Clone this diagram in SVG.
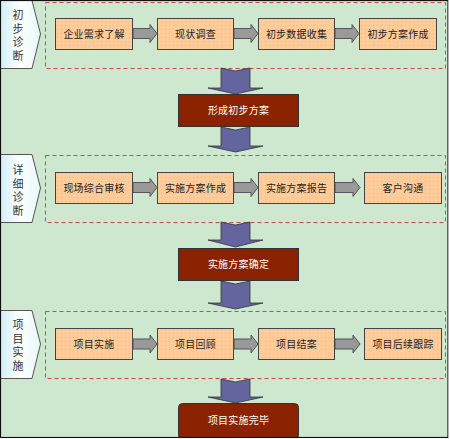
<svg xmlns="http://www.w3.org/2000/svg" width="450" height="439" viewBox="0 0 450 439">
<style>
.bg{fill:#cde8cf}
.sec{fill:none;stroke:#d0454a;stroke-width:1;stroke-dasharray:4,3}
.tab{fill:url(#tabg);stroke:#555;stroke-width:1}
.box{fill:#ffcc99;stroke:#444;stroke-width:1}
.dots{fill:url(#dot)}
.ga{fill:#999;stroke:#555;stroke-width:1}
.pa{fill:#64649e;stroke:#333;stroke-width:0.8}
.rb{fill:#8b2300;stroke:#333;stroke-width:1}
text{font-family:"Noto Sans CJK SC","Noto Sans CJK TC",sans-serif;font-size:10px;letter-spacing:0.2px;text-anchor:middle}
.bt{fill:#222}
.wt{fill:#fff}
.tt{fill:#333;font-size:11px;letter-spacing:2.5px;writing-mode:vertical-rl;text-anchor:start}
</style>
<defs>
<linearGradient id="tabg" x1="0" y1="0" x2="1" y2="0">
<stop offset="0" stop-color="#cfeff8"/>
<stop offset="0.5" stop-color="#ffffff"/>
<stop offset="1" stop-color="#e6f7fb"/>
</linearGradient>
<pattern id="dot" width="4" height="4" patternUnits="userSpaceOnUse">
<rect x="1" y="1" width="1" height="1" fill="#000" fill-opacity="0.08"/>
</pattern>
</defs>
<rect class="bg" x="0" y="0" width="450" height="439"/>

<g id="section1">
<rect class="sec" x="45.5" y="2.5" width="400" height="66"/>
<polygon class="tab" points="0,0.5 32,0.5 40.5,34 32,68.5 0,68.5"/>
<text class="tt" x="18" y="9.5">初步诊断</text>
</g>
<g id="section2">
<rect class="sec" x="45.5" y="155.5" width="400" height="67"/>
<polygon class="tab" points="0,154.5 32,154.5 40.5,188 32,222.5 0,222.5"/>
<text class="tt" x="18" y="164.5">详细诊断</text>
</g>
<g id="section3">
<rect class="sec" x="45.5" y="311.5" width="400" height="67"/>
<polygon class="tab" points="0,310.5 32,310.5 40.5,344 32,378.5 0,378.5"/>
<text class="tt" x="18" y="319.5">项目实施</text>
</g>

<g id="connectors">
<polygon class="ga" points="133,28.5 150,28.5 150,24.5 157,33.5 150,42.5 150,38.5 133,38.5"/>
<polygon class="ga" points="234,28.5 251,28.5 251,24.5 258,33.5 251,42.5 251,38.5 234,38.5"/>
<polygon class="ga" points="335,28.5 352,28.5 352,24.5 359,33.5 352,42.5 352,38.5 335,38.5"/>
<polygon class="ga" points="133,182.5 150,182.5 150,178.5 157,187.5 150,196.5 150,192.5 133,192.5"/>
<polygon class="ga" points="234,182.5 251,182.5 251,178.5 258,187.5 251,196.5 251,192.5 234,192.5"/>
<polygon class="ga" points="335,182.5 353,182.5 353,178.5 360,187.5 353,196.5 353,192.5 335,192.5"/>
<polygon class="ga" points="133,339 150,339 150,335 157,344 150,353 150,349 133,349"/>
<polygon class="ga" points="234,339 251,339 251,335 258,344 251,353 251,349 234,349"/>
<polygon class="ga" points="335,339 353,339 353,335 360,344 353,353 353,349 335,349"/>
<polygon class="pa" points="221,68 235.5,71 250,68 250,88 263,88 235.5,94 208,88 221,88"/>
<polygon class="pa" points="221,127 235.5,130 250,127 250,146 263,146 235.5,152 208,146 221,146"/>
<polygon class="pa" points="221,222 235.5,225 250,222 250,240 263,240 235.5,247 208,240 221,240"/>
<polygon class="pa" points="221,281 235.5,284 250,281 250,303 263,303 235.5,309 208,303 221,303"/>
<polygon class="pa" points="221,379 235.5,382 250,379 250,397 263,397 235.5,403 208,397 221,397"/>
</g>

<g id="n1"><rect class="box" x="55.5" y="18.5" width="77" height="31"/><rect class="dots" x="56" y="19" width="76" height="30"/><text class="bt" x="94" y="37.5">企业需求了解</text></g>
<g id="n2"><rect class="box" x="157.5" y="18.5" width="76" height="31"/><rect class="dots" x="158" y="19" width="75" height="30"/><text class="bt" x="195.5" y="37.5">现状调查</text></g>
<g id="n3"><rect class="box" x="258.5" y="18.5" width="76" height="31"/><rect class="dots" x="259" y="19" width="75" height="30"/><text class="bt" x="296.5" y="37.5">初步数据收集</text></g>
<g id="n4"><rect class="box" x="359.5" y="18.5" width="77" height="31"/><rect class="dots" x="360" y="19" width="76" height="30"/><text class="bt" x="398" y="37.5">初步方案作成</text></g>

<g id="r1"><rect class="rb" x="178.5" y="94.5" width="120" height="32"/><rect class="dots" x="179" y="95" width="119" height="31"/><text class="wt" x="238.5" y="114">形成初步方案</text></g>

<g id="n5"><rect class="box" x="55.5" y="172.5" width="77" height="31"/><rect class="dots" x="56" y="173" width="76" height="30"/><text class="bt" x="94" y="191.5">现场综合审核</text></g>
<g id="n6"><rect class="box" x="157.5" y="172.5" width="76" height="31"/><rect class="dots" x="158" y="173" width="75" height="30"/><text class="bt" x="195.5" y="191.5">实施方案作成</text></g>
<g id="n7"><rect class="box" x="258.5" y="172.5" width="76" height="31"/><rect class="dots" x="259" y="173" width="75" height="30"/><text class="bt" x="296.5" y="191.5">实施方案报告</text></g>
<g id="n8"><rect class="box" x="364.5" y="172.5" width="77" height="31"/><rect class="dots" x="365" y="173" width="76" height="30"/><text class="bt" x="403" y="191.5">客户沟通</text></g>

<g id="r2"><rect class="rb" x="178.5" y="248.5" width="120" height="32"/><rect class="dots" x="179" y="249" width="119" height="31"/><text class="wt" x="238.5" y="268">实施方案确定</text></g>

<g id="n9"><rect class="box" x="55.5" y="328.5" width="77" height="31"/><rect class="dots" x="56" y="329" width="76" height="30"/><text class="bt" x="94" y="347.5">项目实施</text></g>
<g id="n10"><rect class="box" x="157.5" y="328.5" width="76" height="31"/><rect class="dots" x="158" y="329" width="75" height="30"/><text class="bt" x="195.5" y="347.5">项目回顾</text></g>
<g id="n11"><rect class="box" x="258.5" y="328.5" width="76" height="31"/><rect class="dots" x="259" y="329" width="75" height="30"/><text class="bt" x="296.5" y="347.5">项目结案</text></g>
<g id="n12"><rect class="box" x="364.5" y="328.5" width="77" height="31"/><rect class="dots" x="365" y="329" width="76" height="30"/><text class="bt" x="403" y="347.5">项目后续跟踪</text></g>

<g id="r3"><rect class="rb" x="178.5" y="403.5" width="120" height="36" rx="4"/><rect class="dots" x="180" y="405" width="117" height="32"/><text class="wt" x="238.5" y="424">项目实施完毕</text></g>

<rect x="0.5" y="0.5" width="447.5" height="437" fill="none" stroke="#111" stroke-width="1.2"/>
<rect x="448.5" y="0" width="1.5" height="439" fill="#fff"/>
<rect x="0" y="438" width="450" height="1" fill="#fff"/>
</svg>
